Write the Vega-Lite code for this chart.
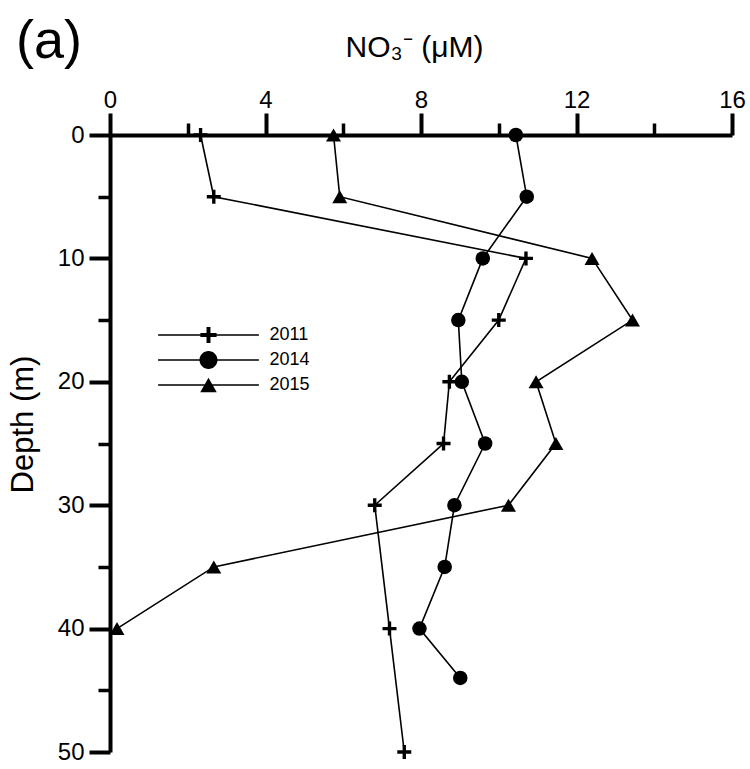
{
  "$schema": "https://vega.github.io/schema/vega-lite/v6.json",
  "width": 622,
  "height": 617,
  "autosize": {"type": "none"},
  "padding": {"left": 110, "top": 135, "right": 18, "bottom": 17},
  "background": "white",
  "title": {"text": "(a)", "anchor": "start", "frame": "group", "fontSize": 54, "fontWeight": "normal", "color": "black", "font": "Liberation Sans", "dx": -94, "dy": 37, "offset": 0},
  "config": {
    "view": {"stroke": null},
    "font": "Liberation Sans",
    "axis": {"grid": false, "domainColor": "black", "tickColor": "black", "labelColor": "black", "titleColor": "black", "labelFont": "Liberation Sans", "titleFont": "Liberation Sans", "titleFontWeight": "normal", "labelFlush": false, "labelOverlap": false}
  },
  "data": {"values": [
    {"year": "2011", "depth": 0, "no3": 2.33},
    {"year": "2011", "depth": 5, "no3": 2.67},
    {"year": "2011", "depth": 10, "no3": 10.70},
    {"year": "2011", "depth": 15, "no3": 10.0},
    {"year": "2011", "depth": 20, "no3": 8.73},
    {"year": "2011", "depth": 25, "no3": 8.58},
    {"year": "2011", "depth": 30, "no3": 6.81},
    {"year": "2011", "depth": 40, "no3": 7.19},
    {"year": "2011", "depth": 50, "no3": 7.57},
    {"year": "2014", "depth": 0, "no3": 10.44},
    {"year": "2014", "depth": 5, "no3": 10.72},
    {"year": "2014", "depth": 10, "no3": 9.59},
    {"year": "2014", "depth": 15, "no3": 8.96},
    {"year": "2014", "depth": 20, "no3": 9.05},
    {"year": "2014", "depth": 25, "no3": 9.65},
    {"year": "2014", "depth": 30, "no3": 8.86},
    {"year": "2014", "depth": 35, "no3": 8.61},
    {"year": "2014", "depth": 40, "no3": 7.96},
    {"year": "2014", "depth": 44, "no3": 9.01},
    {"year": "2015", "depth": 0, "no3": 5.75},
    {"year": "2015", "depth": 5, "no3": 5.91},
    {"year": "2015", "depth": 10, "no3": 12.40},
    {"year": "2015", "depth": 15, "no3": 13.44},
    {"year": "2015", "depth": 20, "no3": 10.96},
    {"year": "2015", "depth": 25, "no3": 11.47},
    {"year": "2015", "depth": 30, "no3": 10.25},
    {"year": "2015", "depth": 35, "no3": 2.67},
    {"year": "2015", "depth": 40, "no3": 0.18}
  ]},
  "resolve": {"axis": {"x": "independent", "y": "independent"}, "scale": {"shape": "independent"}},
  "layer": [
    {
      "mark": {"type": "line", "color": "black", "strokeWidth": 1.6},
      "encoding": {
        "x": {"field": "no3", "type": "quantitative", "scale": {"domain": [0, 16], "nice": false},
          "axis": {"orient": "top", "values": [0, 4, 8, 12, 16], "tickSize": 22, "tickWidth": 4, "domainWidth": 4, "labelFontSize": 24, "labelPadding": 1, "title": "NO₃⁻ (μM)", "titleFontSize": 30, "titlePadding": 26, "titleX": 304}},
        "y": {"field": "depth", "type": "quantitative", "scale": {"domain": [0, 50], "nice": false, "reverse": true},
          "axis": {"orient": "left", "values": [0, 10, 20, 30, 40, 50], "tickSize": 21, "tickWidth": 4, "domainWidth": 4, "labelFontSize": 24, "labelPadding": 5, "title": "Depth (m)", "titleFontSize": 31, "titlePadding": 18, "titleY": 289}},
        "detail": {"field": "year"},
        "order": {"field": "depth"}
      }
    },
    {
      "mark": {"type": "point", "filled": true, "color": "black", "opacity": 1},
      "encoding": {
        "x": {"field": "no3", "type": "quantitative",
          "axis": {"orient": "top", "values": [2, 6, 10, 14], "tickSize": 12, "tickWidth": 3.5, "labels": false, "domain": false, "title": null}},
        "y": {"field": "depth", "type": "quantitative",
          "axis": {"orient": "left", "values": [5, 15, 25, 35, 45], "tickSize": 12, "tickWidth": 3.5, "labels": false, "domain": false, "title": null}},
        "shape": {"field": "year", "type": "nominal", "scale": {"domain": ["2011", "2014", "2015"], "range": ["M-1,-0.24H-0.24V-1H0.24V-0.24H1V0.24H0.24V1H-0.24V0.24H-1Z", "circle", "triangle-up"]}, "legend": null},
        "size": {"field": "year", "type": "ordinal", "scale": {"domain": ["2011", "2014", "2015"], "range": [196, 225, 280]}, "legend": null}
      }
    },
    {
      "mark": {"type": "point", "filled": true, "color": "black", "opacity": 0},
      "encoding": {
        "x": {"field": "no3", "type": "quantitative", "axis": null},
        "y": {"field": "depth", "type": "quantitative", "axis": null},
        "shape": {"field": "year", "type": "nominal",
          "scale": {"domain": ["2011", "2014", "2015"], "range": [
            "M-5.6,-0.08H5.6V0.08H-5.6ZM-0.9,-0.22H-0.22V-0.9H0.22V-0.22H0.9V0.22H0.22V0.9H-0.22V0.22H-0.9Z",
            "M-5.6,-0.08H5.6V0.08H-5.6ZM1,0A1,1,0,1,1,-1,0A1,1,0,1,1,1,0Z",
            "M-5.6,-0.08H5.6V0.08H-5.6ZM0,-0.8L0.92,0.8L-0.92,0.8Z"]},
          "legend": {"title": null, "orient": "none", "legendX": 89.5, "legendY": 191, "symbolSize": 324, "labelFontSize": 18, "labelOffset": 52, "rowPadding": 7, "padding": 0, "labelFont": "Liberation Sans", "labelColor": "black",
            "symbolStrokeWidth": 0, "symbolFillColor": "black", "symbolOpacity": 1,
            "encode": {"symbols": {"update": {"opacity": {"value": 1}, "fill": {"value": "black"}, "fillOpacity": {"value": 1}}}}}
        }
      }
    }
  ]
}
